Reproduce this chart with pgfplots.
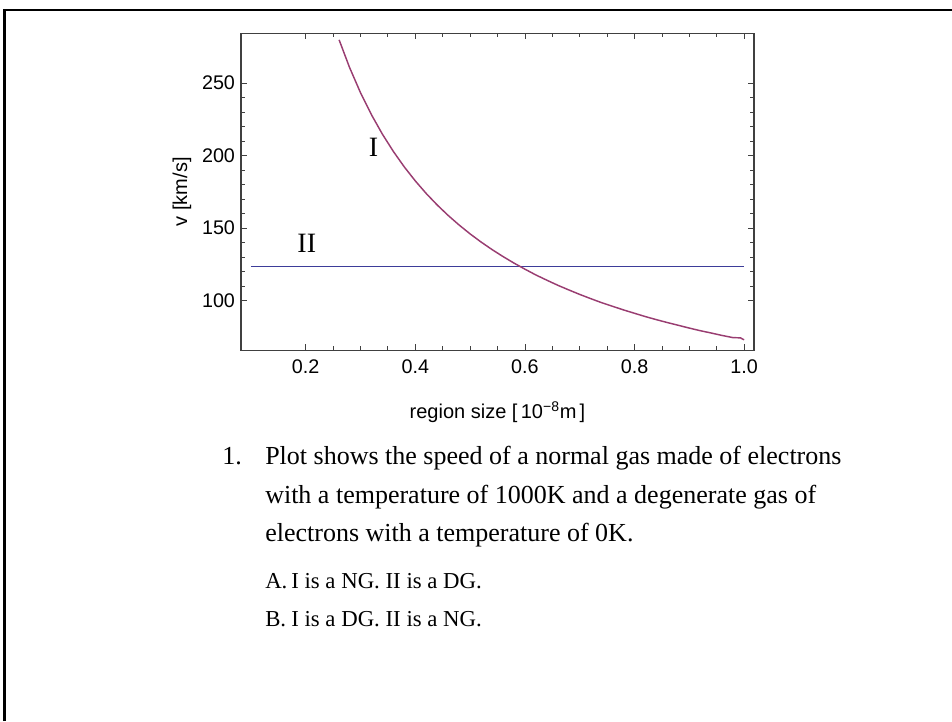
\documentclass[border=0pt]{standalone}
\usepackage{pgfplots}
\pgfplotsset{compat=1.18}
\usepackage{fontspec}
\setmainfont{Liberation Serif}
\newfontfamily\arial{Liberation Sans}
\definecolor{mmablue}{rgb}{0.24,0.24,0.6}
\definecolor{mmapurple}{rgb}{0.6,0.24,0.442}
\begin{document}
\begin{tikzpicture}[x=0.75pt,y=0.75pt]
\useasboundingbox (0,0) rectangle (952,721);
\draw[line width=1.9pt] (4.7,0) -- (4.7,711) -- (952,711);
\coordinate (SW) at (241,370.7);
\begin{axis}[
  at={(SW)}, anchor=south west,
  scale only axis, width=384.75pt, height=237.75pt,
  xmin=0.082, xmax=1.018, ymin=65.8, ymax=284.2,
  xtick={0.2,0.4,0.6,0.8,1.0},
  xticklabels={0.2,0.4,0.6,0.8,1.0},
  minor x tick num=3,
  ytick={100,150,200,250},
  minor y tick num=4,
  tick align=inside,
  major tick length=4.5pt, minor tick length=3pt,
  axis line style={line width=0.8pt, black!75},
  every tick/.style={black!75, line width=0.6pt},
  tick label style={font=\arial\fontsize{14.8}{17}\selectfont},
  xticklabel style={yshift=-3.5pt},
  yticklabel style={xshift=-1pt},
  /pgf/number format/assume math mode=true,
  xlabel={region size [\,10\textsuperscript{−8}m\,]},
  ylabel={v [km/s]},
  label style={font=\arial\fontsize{15}{17}\selectfont},
  xlabel style={at={(axis description cs:0.5,-0.195)}, anchor=center},
  ylabel style={at={(axis description cs:-0.115,0.5)}, anchor=center},
  clip=true,
]
\addplot[mmablue, line width=1.1pt] coordinates {(0.1,123.5) (1.0,123.5)};
\addplot[mmapurple, line width=1.1pt] coordinates {
(0.261,279.7) (0.28,260.7) (0.30,243.3) (0.32,228.1) (0.34,214.7) (0.36,202.8)
(0.38,192.1) (0.40,182.5) (0.42,173.8) (0.44,165.9) (0.46,158.7) (0.48,152.1)
(0.50,146.0) (0.52,140.4) (0.54,135.2) (0.56,130.4) (0.58,125.9) (0.60,121.7)
(0.62,117.7) (0.64,114.1) (0.66,110.6) (0.68,107.4) (0.70,104.3) (0.72,101.4)
(0.74,98.6) (0.76,96.1) (0.78,93.6) (0.80,91.3) (0.82,89.0) (0.84,86.9)
(0.86,84.9) (0.88,83.0) (0.90,81.1) (0.92,79.3) (0.94,77.7) (0.96,76.0)
(0.98,74.5) (0.993,74.4) (1.00,73.0)};
\node[font=\fontsize{21}{21}\selectfont] at (axis cs:0.324,205.5) {I};
\node[font=\fontsize{21}{21}\selectfont] at (axis cs:0.202,139.5) {II};
\end{axis}
\begin{scope}[every node/.style={anchor=base west, inner sep=0pt}]
\node[font=\fontsize{19.5}{23}\selectfont] at (222,256) {1.};
\node[font=\fontsize{19.5}{23}\selectfont] at (265,256) {Plot shows the speed of a normal gas made of electrons};
\node[font=\fontsize{19.5}{23}\selectfont] at (265,217) {with a temperature of 1000K and a degenerate gas of};
\node[font=\fontsize{19.5}{23}\selectfont] at (265,179.3) {electrons with a temperature of 0K.};
\node[font=\fontsize{17.1}{20}\selectfont] at (265,133) {A.};
\node[font=\fontsize{17.1}{20}\selectfont] at (291,133) {I is a NG. II is a DG.};
\node[font=\fontsize{17.1}{20}\selectfont] at (265,95) {B.};
\node[font=\fontsize{17.1}{20}\selectfont] at (291,95) {I is a DG. II is a NG.};
\end{scope}
\end{tikzpicture}
\end{document}
